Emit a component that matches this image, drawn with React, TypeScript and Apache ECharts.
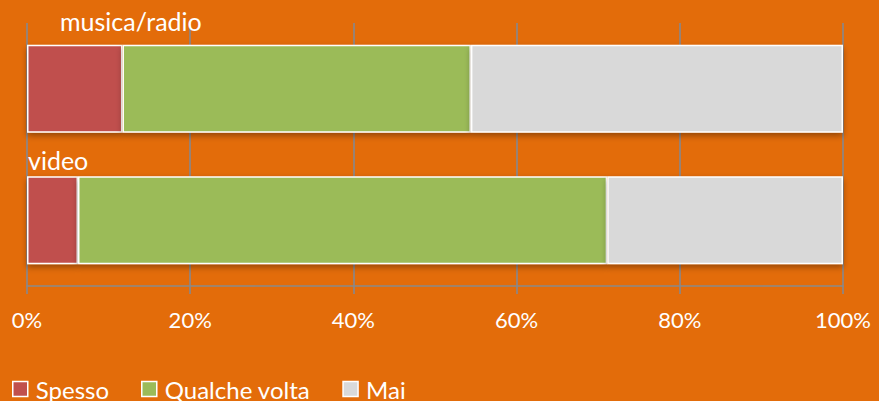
import React, { useEffect, useRef } from "react";
import * as echarts from "echarts";

const categories = ["musica/radio", "video"];
const seriesNames = ["Spesso", "Qualche volta", "Mai"];
const spesso = [11.7, 6.25];
const qualcheVolta = [42.7, 64.85];
const mai = [45.6, 28.9];
const tickValues = [0, 20, 40, 60, 80, 100];
const colors = ["#C0504D", "#9BBB59", "#D9D9D9"];

// label placement relative to the bar start / band centre (styling)
const labelOffsets = [
  { dx: 33, dy: -68 },
  { dx: 1, dy: -60 },
];

const FONT = "Lato";

export default function App() {
  const ref = useRef<HTMLDivElement>(null);
  useEffect(() => {
    if (!ref.current) return;
    const chart = echarts.init(ref.current, null, { renderer: "svg" });
    const values = [spesso, qualcheVolta, mai];
    const option: any = {
      animation: false,
      backgroundColor: "#E36C0A",
      textStyle: { fontFamily: FONT },
      grid: { left: 27, right: 36, top: 23, bottom: 115 },
      legend: {
        left: 12,
        top: 377,
        padding: 0,
        itemWidth: 15,
        itemHeight: 15,
        itemGap: 32,
        icon: "rect",
        itemStyle: { borderColor: "#fff", borderWidth: 1.5, shadowBlur: 0, shadowOffsetY: 0, shadowColor: "transparent" },
        textStyle: { color: "#fff", fontSize: 24, lineHeight: 24, fontFamily: FONT, padding: [0, 0, 0, 3] },
        data: seriesNames,
      },
      xAxis: {
        type: "value",
        min: 0,
        max: 100,
        interval: 20,
        axisLine: { show: true, lineStyle: { color: "#8A8A8A", width: 1.5 } },
        axisTick: { show: true, length: 8, lineStyle: { color: "#7F8A99", width: 1.5 } },
        splitLine: { show: true, lineStyle: { color: "#7F8A99", width: 1.5 } },
        axisLabel: {
          color: "#fff",
          fontSize: 22,
          fontFamily: FONT,
          margin: 22,
          formatter: (v: number) => (tickValues.includes(v) ? v + "%" : ""),
        },
      },
      yAxis: {
        type: "category",
        inverse: true,
        data: categories,
        axisLine: { show: false },
        axisTick: { show: false },
        splitLine: { show: false },
        axisLabel: { show: false },
      },
      series: seriesNames.map((name, i) => ({
        name,
        type: "bar",
        stack: "total",
        barWidth: "67%",
        data: values[i],
        itemStyle: {
          color: colors[i],
          borderColor: "#fff",
          borderWidth: 1.5,
          shadowColor: "rgba(0,0,0,0.35)",
          shadowBlur: 6,
          shadowOffsetY: 3,
        },
      })),
    };
    chart.setOption(option);
    const x0 = chart.convertToPixel({ xAxisIndex: 0 }, 0) as number;
    const graphics = categories.map((c, i) => {
      const yc = chart.convertToPixel({ yAxisIndex: 0 }, c) as number;
      return {
        type: "text",
        x: x0 + labelOffsets[i].dx,
        y: yc + labelOffsets[i].dy,
        style: {
          text: c,
          fill: "#fff",
          font: `25px ${FONT}`,
          textAlign: "left",
          textVerticalAlign: "middle",
          verticalAlign: "middle",
        },
        z: 10,
      };
    });
    chart.setOption({ graphic: graphics });
    return () => chart.dispose();
  }, []);
  return (
    <div
      ref={ref}
      style={{ position: "fixed", left: 0, top: 0, width: 879, height: 401 }}
    />
  );
}
